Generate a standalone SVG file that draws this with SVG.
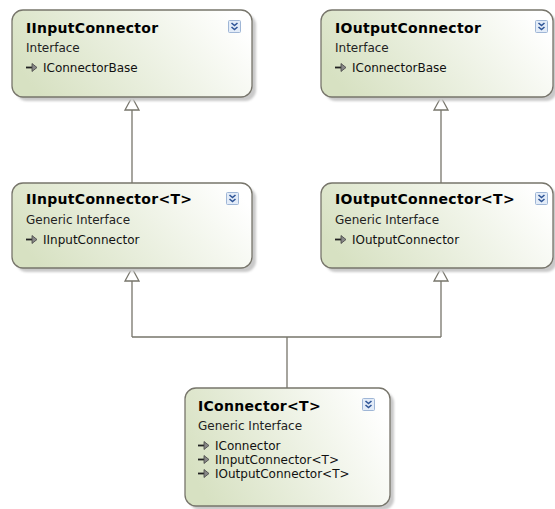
<svg xmlns="http://www.w3.org/2000/svg" width="555" height="509" viewBox="0 0 555 509">
  <style>
    .box { stroke: #77756b; stroke-width: 1.3; fill: url(#nodeFill); }
    .shadow { fill: #c9c9c9; filter: url(#soft); }
    .title { font-family: "DejaVu Sans", Verdana, sans-serif; font-weight: bold; font-size: 14px; letter-spacing: 0.3px; fill: #000; }
    .kind { font-family: "DejaVu Sans", Verdana, sans-serif; font-size: 12px; fill: #222; }
    .item { font-family: "DejaVu Sans", Verdana, sans-serif; font-size: 12px; fill: #111; }
    .conn { stroke: #77756b; stroke-width: 1.3; fill: none; }
    .head { stroke: #77756b; stroke-width: 1.3; fill: #fff; }
    .btn { fill: #e3ecf8; stroke: #9fb6d6; stroke-width: 1; }
    .chev { fill: none; stroke: #2f5597; stroke-width: 1.6; }
  </style>
  <defs>
    <linearGradient id="nodeFill" x1="0" y1="0.6" x2="1" y2="0.3">
      <stop offset="0" stop-color="#d7e1c2"/>
      <stop offset="1" stop-color="#ffffff"/>
    </linearGradient>
    <filter id="soft" x="-10%" y="-10%" width="120%" height="120%">
      <feGaussianBlur stdDeviation="1.2"/>
    </filter>
    <!-- collapse button -->
    <g id="toggle">
      <rect class="btn" x="0.5" y="0.5" width="12" height="12" rx="1"/>
      <path class="chev" d="M3.5 3 L6.5 5.5 L9.5 3 M3.5 7 L6.5 9.5 L9.5 7"/>
    </g>
    <!-- inherited-interface glyph -->
    <g id="impl">
      <path d="M0 0 H7" stroke="#222" stroke-width="1.8"/>
      <path d="M6 -4 L11 0 L6 4 Z" fill="#888" stroke="#444" stroke-width="0.8"/>
    </g>
  </defs>

  <!-- connectors -->
  <g id="connectors">
    <path class="conn" d="M132 183 V110"/>
    <path class="head" d="M132 97 L139 110 L125 110 Z"/>
    <path class="conn" d="M441 183 V110"/>
    <path class="head" d="M441 97 L448 110 L434 110 Z"/>
    <path class="conn" d="M287 388 V337 M132 337 H441 M132 337 V281 M441 337 V281"/>
    <path class="head" d="M132 268 L139 281 L125 281 Z"/>
    <path class="head" d="M441 268 L448 281 L434 281 Z"/>
  </g>

  <g id="IInputConnector">
    <rect class="shadow" x="16" y="14" width="240" height="87" rx="11"/>
    <rect class="box" x="12" y="10" width="240" height="87" rx="11"/>
    <text class="title" x="26" y="33">IInputConnector</text>
    <use href="#toggle" x="228" y="20"/>
    <text class="kind" x="26" y="52">Interface</text>
    <use href="#impl" x="26" y="67.5"/>
    <text class="item" x="43" y="72">IConnectorBase</text>
  </g>

  <g id="IOutputConnector">
    <rect class="shadow" x="325" y="14" width="232" height="87" rx="11"/>
    <rect class="box" x="321" y="10" width="232" height="87" rx="11"/>
    <text class="title" x="335" y="33">IOutputConnector</text>
    <use href="#toggle" x="535" y="20"/>
    <text class="kind" x="335" y="52">Interface</text>
    <use href="#impl" x="335" y="67.5"/>
    <text class="item" x="352" y="72">IConnectorBase</text>
  </g>

  <g id="IInputConnectorT">
    <rect class="shadow" x="16" y="187" width="240" height="85" rx="11"/>
    <rect class="box" x="12" y="183" width="240" height="85" rx="11"/>
    <text class="title" x="26" y="204">IInputConnector&lt;T&gt;</text>
    <use href="#toggle" x="226" y="192"/>
    <text class="kind" x="26" y="224">Generic Interface</text>
    <use href="#impl" x="26" y="239.5"/>
    <text class="item" x="43" y="244">IInputConnector</text>
  </g>

  <g id="IOutputConnectorT">
    <rect class="shadow" x="325" y="187" width="232" height="85" rx="11"/>
    <rect class="box" x="321" y="183" width="232" height="85" rx="11"/>
    <text class="title" x="335" y="204">IOutputConnector&lt;T&gt;</text>
    <use href="#toggle" x="535" y="192"/>
    <text class="kind" x="335" y="224">Generic Interface</text>
    <use href="#impl" x="335" y="239.5"/>
    <text class="item" x="352" y="244">IOutputConnector</text>
  </g>

  <g id="IConnectorT">
    <rect class="shadow" x="189" y="392" width="205" height="118" rx="11"/>
    <rect class="box" x="185" y="388" width="205" height="118" rx="11"/>
    <text class="title" x="198" y="411">IConnector&lt;T&gt;</text>
    <use href="#toggle" x="362" y="398"/>
    <text class="kind" x="198" y="430">Generic Interface</text>
    <use href="#impl" x="198" y="445.5"/>
    <text class="item" x="215" y="450">IConnector</text>
    <use href="#impl" x="198" y="459.5"/>
    <text class="item" x="215" y="464">IInputConnector&lt;T&gt;</text>
    <use href="#impl" x="198" y="473.5"/>
    <text class="item" x="215" y="478">IOutputConnector&lt;T&gt;</text>
  </g>
</svg>
